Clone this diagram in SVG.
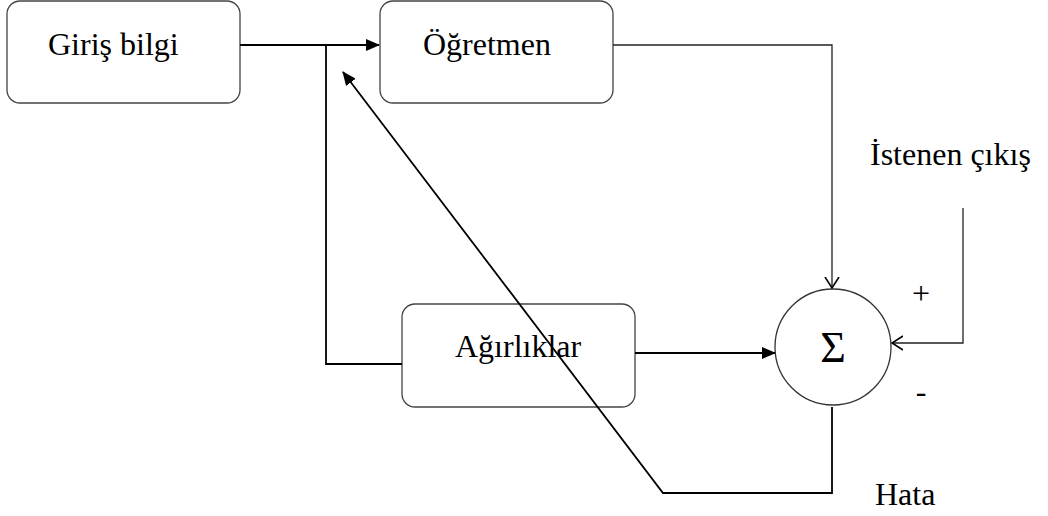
<svg xmlns="http://www.w3.org/2000/svg" width="1048" height="516" viewBox="0 0 1048 516">
<style>
.box{fill:#fff;stroke:#444;stroke-width:1.3}
.c{fill:none;stroke:#000;stroke-width:1.8}
.thin{fill:none;stroke:#222;stroke-width:1.3}
</style>
<defs>
<marker id="fa" markerWidth="14" markerHeight="12" refX="13" refY="6" orient="auto" markerUnits="userSpaceOnUse">
<path d="M0,0 L14,6 L0,12 Z" fill="#000"/>
</marker>
<marker id="oa" markerWidth="12" markerHeight="16" refX="11" refY="8" orient="auto" markerUnits="userSpaceOnUse">
<path d="M0,1 L11,8 L0,15" fill="none" stroke="#000" stroke-width="1.6"/>
</marker>
</defs>
<rect width="1048" height="516" fill="#fff"/>
<g id="giris"><rect class="box" x="7" y="1" width="233" height="102" rx="13"/><text x="48" y="55" font-family="Liberation Serif" font-size="32">Giriş bilgi</text></g>
<g id="ogretmen"><rect class="box" x="380" y="1" width="233" height="102" rx="13"/><text x="423" y="55" font-family="Liberation Serif" font-size="32">Öğretmen</text></g>
<g id="agirliklar"><rect class="box" x="402" y="304" width="233" height="103" rx="13"/><text x="455" y="357" font-family="Liberation Serif" font-size="32">Ağırlıklar</text></g>
<g id="sum"><circle cx="833" cy="347" r="58" fill="#fff" stroke="#333" stroke-width="1.3"/><text x="833" y="362" text-anchor="middle" font-family="Liberation Serif" font-size="44">Σ</text></g>
<g id="connectors">
<path class="c" d="M240,45 H379" marker-end="url(#fa)"/>
<path class="c" d="M326,45 V364 H402"/>
<path class="thin" d="M613,45 H832 V288" marker-end="url(#oa)"/>
<path class="c" d="M635,353 H775" marker-end="url(#fa)"/>
<path class="thin" d="M963,208 V343 H892" marker-end="url(#oa)"/>
<path class="c" d="M832,407 V493 H663 L343,72" marker-end="url(#fa)"/>
</g>
<g id="labels">
<text x="870" y="165" font-family="Liberation Serif" font-size="32">İstenen çıkış</text>
<text x="921" y="304" text-anchor="middle" font-family="Liberation Serif" font-size="32">+</text>
<text x="921" y="402" text-anchor="middle" font-family="Liberation Serif" font-size="32">-</text>
<text x="875" y="505" font-family="Liberation Serif" font-size="32">Hata</text>
</g>
</svg>
